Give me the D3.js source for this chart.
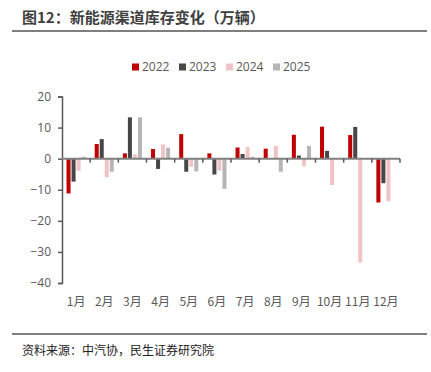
<!DOCTYPE html>
<html><head><meta charset="utf-8">
<script src="https://cdn.jsdelivr.net/npm/d3@7"></script>
<style>
body{margin:0;background:#fff;}
svg{display:block;font-family:"Noto Sans CJK SC","Noto Sans",sans-serif;}
</style></head><body>
<svg id="c" width="431" height="372"></svg>
<script>
const months = ["1月","2月","3月","4月","5月","6月","7月","8月","9月","10月","11月","12月"];
const seriesNames = ["2022","2023","2024","2025"];
const colors = ["#C00000","#474747","#F0C4C4","#B6B6B6"];
const v2022 = [-11.2, 4.7, 1.7, 3.1, 7.9, 1.7, 3.6, 3.2, 7.7, 10.3, 7.6, -14.1];
const v2023 = [-7.4, 6.3, 13.3, -3.3, -4.2, -5.1, 1.5, 0.2, 1.0, 2.5, 10.2, -7.9];
const v2024 = [-3.9, -6.0, 1.4, 4.6, -2.6, -3.9, 3.7, 4.1, -2.4, -8.5, -33.4, -13.7];
const v2025 = [0.6, -4.2, 13.3, 3.5, -4.1, -9.7, 0.6, -4.2, 4.1, null, null, null];
const yTicks = [20, 10, 0, -10, -20, -30, -40];
const title = "图12：新能源渠道库存变化（万辆）";
const source = "资料来源：中汽协，民生证券研究院";

const series = [v2022, v2023, v2024, v2025];
const svg = d3.select("#c");

// title
svg.append("text").attr("x", 22).attr("y", 23).attr("font-size", 15).attr("font-weight", "bold")
  .attr("fill", "#404040").text(title);
svg.append("line").attr("x1", 12).attr("x2", 427).attr("y1", 31).attr("y2", 31)
  .attr("stroke", "#7f7f7f").attr("stroke-width", 2);
svg.append("line").attr("x1", 12).attr("x2", 427).attr("y1", 334).attr("y2", 334)
  .attr("stroke", "#7f7f7f").attr("stroke-width", 2);
svg.append("text").attr("x", 22).attr("y", 355).attr("font-size", 12)
  .attr("fill", "#222").text(source);

// legend
const lg = svg.append("g");
seriesNames.forEach((n, i) => {
  const g = lg.append("g").attr("transform", `translate(${132 + i * 47},67)`);
  g.append("rect").attr("x", 0).attr("y", -3.5).attr("width", 7).attr("height", 7).attr("fill", colors[i]);
  g.append("text").attr("x", 10).attr("y", 0).attr("dy", "0.35em").attr("font-size", 12)
    .attr("fill", "#595959").attr("font-family", "'Open Sans','Noto Sans',sans-serif").text(n);
});

// scales
const x = d3.scaleBand().domain(months).range([62, 400]).padding(0);
const xi = d3.scaleBand().domain(seriesNames).range([0, x.bandwidth()]).paddingInner(0.2).paddingOuter(0.9);
const y = d3.scaleLinear().domain([-40, 20]).range([283, 96.5]);

// bars
seriesNames.forEach((n, si) => {
  svg.append("g").selectAll("rect").data(months.map((m, i) => ({m, v: series[si][i]})).filter(d => d.v != null))
    .join("rect")
    .attr("x", d => x(d.m) + xi(n))
    .attr("width", xi.bandwidth())
    .attr("y", d => y(Math.max(0, d.v)))
    .attr("height", d => Math.abs(y(d.v) - y(0)))
    .attr("fill", colors[si]);
});

// y axis
const ya = svg.append("g").attr("transform", "translate(62,0)")
  .call(d3.axisLeft(y).tickValues(yTicks).tickSize(4).tickPadding(7).tickFormat(d3.format("d")));
ya.select(".domain").attr("stroke", "#595959").attr("stroke-width", 1.5);
ya.selectAll(".tick line").attr("stroke", "#595959").attr("stroke-width", 1.5);
ya.selectAll("text").attr("font-size", 12).attr("fill", "#595959")
  .attr("font-family", "'Open Sans','Noto Sans',sans-serif");

// zero line with tick marks at band boundaries
svg.append("line").attr("x1", 62).attr("x2", 400).attr("y1", y(0)).attr("y2", y(0))
  .attr("stroke", "#808080").attr("stroke-width", 2);
svg.append("g").selectAll("line").data(months.map(m => x(m) + x.bandwidth()))
  .join("line").attr("x1", d => d).attr("x2", d => d).attr("y1", y(0)).attr("y2", y(0) + 4)
  .attr("stroke", "#595959").attr("stroke-width", 1.5);

// x labels
svg.append("g").selectAll("text").data(months).join("text")
  .attr("x", d => x(d) + x.bandwidth() / 2).attr("y", 302).attr("dy", "0.35em")
  .attr("text-anchor", "middle").attr("font-size", 12).attr("fill", "#595959").text(d => d);
</script>
</body></html>
